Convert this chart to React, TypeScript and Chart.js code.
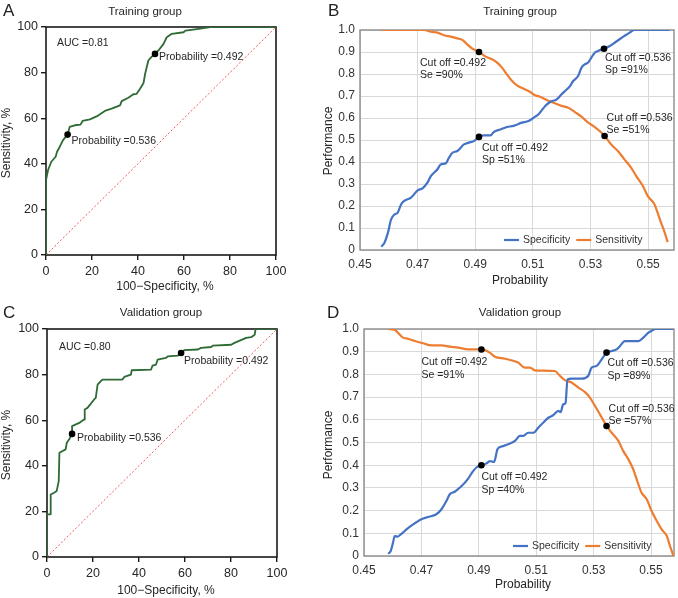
import React, { useEffect, useRef } from "react";
import { Chart, registerables } from "chart.js";
Chart.register(...registerables);

const FONT = '"Liberation Sans", Arial, Helvetica, sans-serif';

// ---------- Panel A: ROC, training group ----------
const rocA_fpr = [0, 0, 0.9, 2.3, 4.2, 4.8, 6.0, 7.4, 9.4, 10.3, 12.5, 15.0, 15.9, 19.1, 22.0, 25.6, 28.5, 32.2, 32.9, 35.8, 38.0, 39.4, 40.9, 42.4, 43.1, 44.5, 46.0, 47.4, 48.9, 51.1, 52.5, 54.7, 59.8, 60.6, 65.6, 71.5, 100];
const rocA_tpr = [0, 32.9, 37.3, 40.9, 43.1, 45.3, 47.5, 50.4, 52.8, 56.2, 56.9, 57.2, 58.8, 59.5, 60.8, 63.2, 64.2, 65.6, 67.5, 69.0, 70.5, 70.7, 72.9, 75.4, 79.5, 85.3, 87.0, 88.2, 89.7, 92.6, 95.5, 97.0, 97.7, 98.4, 99.1, 100, 100];
const rocA_cutFpr = [47.4, 9.4];
const rocA_cutTpr = [88.2, 52.8];
const rocA_cutText = ["Probability =0.492", "Probability =0.536"];
const rocA_auc = "AUC =0.81";

// ---------- Panel C: ROC, validation group ----------
const rocC_fpr = [0, 0, 1.6, 1.6, 3.1, 4.2, 5.1, 5.4, 8.1, 8.6, 9.6, 10.9, 10.9, 14.0, 16.1, 16.4, 17.6, 20.5, 21.2, 22.0, 23.4, 24.1, 32.8, 33.6, 36.5, 36.8, 45.2, 45.9, 47.4, 48.1, 51.7, 52.5, 56.8, 58.3, 59.0, 59.7, 65.6, 67.0, 71.4, 72.1, 80.1, 81.5, 86.6, 88.8, 90.3, 90.7, 100];
const rocC_tpr = [0, 18.7, 18.7, 27.4, 28.2, 28.9, 33.3, 45.7, 47.2, 50.1, 51.5, 54.0, 57.4, 58.8, 60.3, 64.7, 65.4, 69.1, 69.8, 75.6, 77.1, 77.8, 77.8, 79.0, 80.0, 81.9, 82.2, 83.9, 84.4, 86.6, 87.3, 88.0, 88.3, 89.5, 90.2, 90.7, 91.0, 91.7, 92.1, 92.7, 93.1, 93.9, 96.1, 96.4, 97.5, 100, 100];
const rocC_cutFpr = [58.3, 10.9];
const rocC_cutTpr = [89.5, 54.0];
const rocC_cutText = ["Probability =0.492", "Probability =0.536"];
const rocC_auc = "AUC =0.80";

const diagX = [0, 100];
const diagY = [0, 100];
const rocTicks = [0, 20, 40, 60, 80, 100];

// ---------- Panel B: performance, training group ----------
const specB_prob = [0.4574, 0.4585, 0.4597, 0.4608, 0.4620, 0.4631, 0.4643, 0.4654, 0.4677, 0.4700, 0.4717, 0.4734, 0.4746, 0.4769, 0.4780, 0.4798, 0.4809, 0.4821, 0.4838, 0.4861, 0.4878, 0.4895, 0.4913, 0.4930, 0.4953, 0.4964, 0.4987, 0.5010, 0.5033, 0.5062, 0.5085, 0.5108, 0.5120, 0.5143, 0.5160, 0.5183, 0.5200, 0.5212, 0.5229, 0.5240, 0.5257, 0.5269, 0.5280, 0.5292, 0.5303, 0.5315, 0.5326, 0.5347, 0.5367, 0.5384, 0.5401, 0.5418, 0.5436, 0.5453, 0.5574];
const specB = [0.015, 0.033, 0.079, 0.139, 0.162, 0.170, 0.208, 0.223, 0.238, 0.271, 0.280, 0.306, 0.336, 0.367, 0.389, 0.394, 0.420, 0.442, 0.450, 0.480, 0.488, 0.495, 0.514, 0.521, 0.521, 0.536, 0.548, 0.559, 0.564, 0.579, 0.586, 0.606, 0.617, 0.655, 0.673, 0.685, 0.708, 0.723, 0.745, 0.768, 0.791, 0.829, 0.844, 0.852, 0.874, 0.897, 0.905, 0.915, 0.927, 0.942, 0.958, 0.973, 0.988, 1.0, 1.0];
const sensB_prob = [0.4574, 0.4723, 0.4746, 0.4769, 0.4792, 0.4815, 0.4838, 0.4855, 0.4872, 0.4890, 0.4913, 0.4936, 0.4959, 0.4976, 0.4993, 0.5010, 0.5028, 0.5045, 0.5068, 0.5091, 0.5108, 0.5125, 0.5148, 0.5177, 0.5200, 0.5223, 0.5246, 0.5269, 0.5292, 0.5315, 0.5332, 0.5349, 0.5372, 0.5395, 0.5418, 0.5441, 0.5459, 0.5482, 0.5499, 0.5522, 0.5533, 0.5545, 0.5556, 0.5568];
const sensB = [1.0, 1.0, 0.992, 0.988, 0.976, 0.970, 0.962, 0.955, 0.935, 0.915, 0.900, 0.879, 0.867, 0.852, 0.829, 0.798, 0.768, 0.748, 0.733, 0.718, 0.703, 0.697, 0.682, 0.667, 0.655, 0.647, 0.627, 0.606, 0.579, 0.559, 0.541, 0.518, 0.480, 0.450, 0.412, 0.374, 0.336, 0.291, 0.245, 0.208, 0.170, 0.124, 0.086, 0.036];
const cutB_prob = [0.4913, 0.4913, 0.5347, 0.5349];
const cutB_val = [0.900, 0.514, 0.915, 0.518];
const cutB_text = [["Cut off =0.492", "Se =90%"], ["Cut off =0.492", "Sp =51%"], ["Cut off =0.536", "Sp =91%"], ["Cut off =0.536", "Se =51%"]];

// ---------- Panel D: performance, validation group ----------
const specD_prob = [0.4584, 0.4593, 0.4601, 0.4607, 0.4616, 0.4628, 0.4648, 0.4671, 0.4700, 0.4723, 0.4752, 0.4770, 0.4787, 0.4799, 0.4816, 0.4840, 0.4863, 0.4880, 0.4898, 0.4909, 0.4927, 0.4938, 0.4953, 0.4965, 0.4979, 0.5002, 0.5026, 0.5043, 0.5055, 0.5072, 0.5090, 0.5107, 0.5124, 0.5142, 0.5159, 0.5177, 0.5185, 0.5194, 0.5202, 0.5209, 0.5223, 0.5258, 0.5281, 0.5293, 0.5310, 0.5328, 0.5345, 0.5363, 0.5380, 0.5392, 0.5409, 0.5456, 0.5473, 0.5491, 0.5508, 0.5514, 0.5578];
const specD = [0.010, 0.022, 0.059, 0.088, 0.085, 0.095, 0.117, 0.139, 0.162, 0.172, 0.184, 0.206, 0.242, 0.272, 0.283, 0.308, 0.341, 0.374, 0.396, 0.400, 0.408, 0.418, 0.414, 0.470, 0.482, 0.492, 0.507, 0.529, 0.529, 0.543, 0.543, 0.565, 0.587, 0.609, 0.620, 0.639, 0.634, 0.668, 0.673, 0.778, 0.781, 0.781, 0.793, 0.830, 0.837, 0.866, 0.896, 0.903, 0.910, 0.925, 0.947, 0.947, 0.962, 0.984, 0.996, 1.0, 1.0];
const sensD_prob = [0.4584, 0.4607, 0.4636, 0.4653, 0.4677, 0.4706, 0.4735, 0.4770, 0.4799, 0.4828, 0.4863, 0.4909, 0.4938, 0.4956, 0.4991, 0.5037, 0.5060, 0.5078, 0.5095, 0.5165, 0.5183, 0.5200, 0.5223, 0.5247, 0.5270, 0.5287, 0.5305, 0.5322, 0.5345, 0.5363, 0.5386, 0.5403, 0.5421, 0.5438, 0.5450, 0.5467, 0.5485, 0.5502, 0.5520, 0.5537, 0.5555, 0.5566, 0.5578];
const sensD = [1.0, 0.996, 0.962, 0.957, 0.947, 0.937, 0.928, 0.928, 0.922, 0.918, 0.910, 0.910, 0.896, 0.878, 0.869, 0.852, 0.830, 0.830, 0.818, 0.815, 0.793, 0.775, 0.764, 0.742, 0.722, 0.698, 0.661, 0.624, 0.573, 0.543, 0.507, 0.463, 0.426, 0.382, 0.338, 0.279, 0.250, 0.198, 0.154, 0.117, 0.088, 0.044, 0.0];
const cutD_prob = [0.4909, 0.4909, 0.5345, 0.5345];
const cutD_val = [0.910, 0.400, 0.896, 0.573];
const cutD_text = [["Cut off =0.492", "Se =91%"], ["Cut off =0.492", "Sp =40%"], ["Cut off =0.536", "Sp =89%"], ["Cut off =0.536", "Se =57%"]];

const perfXTicks = [0.45, 0.47, 0.49, 0.51, 0.53, 0.55];
const perfYTicks = [0, 0.1, 0.2, 0.3, 0.4, 0.5, 0.6, 0.7, 0.8, 0.9, 1.0];
const seriesNames = ["Specificity", "Sensitivity"];

const zip = (xs: number[], ys: number[]) => xs.map((x, i) => ({ x, y: ys[i] }));

const BLUE = "#4472c4";
const ORANGE = "#ed7d31";
const GREEN = "#2e6b34";
const TXT = "#262626";

type Note = { lines: string[]; dx: number; dy: number };
type Panel = {
  kind: "roc" | "perf";
  box: { left: number; top: number; w: number; h: number };
  area: { l: number; t: number; r: number; b: number };
  letter: string; letterX: number; letterY: number;
  title: string; titleX: number; titleY: number;
  xTitle: string; xTitleX: number; xTitleY: number;
  yTitle: string; yTitleX: number; yTitleY: number;
  notes: Note[];
  datasets: any[];
  auc?: string; aucDx?: number; aucDy?: number;
  legendDx?: number; legendDy?: number;
  xMax?: number;
};

const rocDatasets = (fpr: number[], tpr: number[], cf: number[], ct: number[]) => [
  { data: zip(cf, ct), showLine: false, pointRadius: 3.3, pointBackgroundColor: "#000", pointBorderColor: "#000", pointBorderWidth: 0 },
  { data: zip(fpr, tpr), showLine: true, borderColor: GREEN, borderWidth: 1.8, pointRadius: 0, tension: 0, borderJoinStyle: "round" },
  { data: zip(diagX, diagY), showLine: true, borderColor: "#f25555", borderWidth: 1, borderDash: [2, 2], pointRadius: 0 },
];

const perfDatasets = (sp: number[], s: number[], sep: number[], se: number[], cp: number[], cv: number[]) => [
  { data: zip(cp, cv), showLine: false, pointRadius: 3.3, pointBackgroundColor: "#000", pointBorderColor: "#000", pointBorderWidth: 0 },
  { label: seriesNames[0], data: zip(sp, s), showLine: true, borderColor: BLUE, borderWidth: 2.2, pointRadius: 0, cubicInterpolationMode: "monotone" },
  { label: seriesNames[1], data: zip(sep, se), showLine: true, borderColor: ORANGE, borderWidth: 2.2, pointRadius: 0, cubicInterpolationMode: "monotone" },
];

const panels: Panel[] = [
  {
    kind: "roc",
    box: { left: 0, top: 0, w: 300, h: 299 },
    area: { l: 46, t: 27, r: 276, b: 255 },
    letter: "A", letterX: 3, letterY: 11,
    title: "Training group", titleX: 145, titleY: 12,
    xTitle: "100\u2212Specificity, %", xTitleX: 165, xTitleY: 287,
    yTitle: "Sensitivity, %", yTitleX: 7, yTitleY: 143,
    notes: [
      { lines: [rocA_cutText[0]], dx: 4, dy: 3 },
      { lines: [rocA_cutText[1]], dx: 4, dy: 6 },
    ],
    datasets: rocDatasets(rocA_fpr, rocA_tpr, rocA_cutFpr, rocA_cutTpr),
    auc: rocA_auc, aucDx: 11, aucDy: 16,
  },
  {
    kind: "perf",
    box: { left: 318, top: 0, w: 360, h: 299 },
    area: { l: 42, t: 30, r: 357, b: 250 },
    letter: "B", letterX: 10, letterY: 11,
    title: "Training group", titleX: 202, titleY: 12,
    xTitle: "Probability", xTitleX: 202, xTitleY: 281,
    yTitle: "Performance", yTitleX: 11, yTitleY: 141,
    notes: [
      { lines: cutB_text[0], dx: -59, dy: 11 },
      { lines: cutB_text[1], dx: 3, dy: 11 },
      { lines: cutB_text[2], dx: 1, dy: 9 },
      { lines: cutB_text[3], dx: 2, dy: -18 },
    ],
    datasets: perfDatasets(specB_prob, specB, sensB_prob, sensB, cutB_prob, cutB_val),
    legendDx: 144, legendDy: -10, xMax: 0.559,
  },
  {
    kind: "roc",
    box: { left: 0, top: 299, w: 300, h: 299 },
    area: { l: 47, t: 30, r: 277, b: 258 },
    letter: "C", letterX: 3, letterY: 14,
    title: "Validation group", titleX: 161, titleY: 14,
    xTitle: "100\u2212Specificity, %", xTitleX: 166, xTitleY: 292,
    yTitle: "Sensitivity, %", yTitleX: 7, yTitleY: 146,
    notes: [
      { lines: [rocC_cutText[0]], dx: 3, dy: 8 },
      { lines: [rocC_cutText[1]], dx: 5, dy: 4 },
    ],
    datasets: rocDatasets(rocC_fpr, rocC_tpr, rocC_cutFpr, rocC_cutTpr),
    auc: rocC_auc, aucDx: 12, aucDy: 18,
  },
  {
    kind: "perf",
    box: { left: 318, top: 299, w: 360, h: 299 },
    area: { l: 46, t: 30, r: 357, b: 257 },
    letter: "D", letterX: 9, letterY: 14,
    title: "Validation group", titleX: 202, titleY: 14,
    xTitle: "Probability", xTitleX: 205, xTitleY: 286,
    yTitle: "Performance", yTitleX: 11, yTitleY: 146,
    notes: [
      { lines: cutD_text[0], dx: -60, dy: 13 },
      { lines: cutD_text[1], dx: 0, dy: 12 },
      { lines: cutD_text[2], dx: 1, dy: 11 },
      { lines: cutD_text[3], dx: 2, dy: -17 },
    ],
    datasets: perfDatasets(specD_prob, specD, sensD_prob, sensD, cutD_prob, cutD_val),
    legendDx: 149, legendDy: -10, xMax: 0.558,
  },
];

function decorPlugin(p: Panel) {
  return {
    id: "decor" + p.letter,
    beforeDatasetsDraw(chart: any) {
      const { ctx, chartArea: a } = chart;
      ctx.save();
      ctx.strokeStyle = p.kind === "roc" ? "#1a1a1a" : "#8c8c8c";
      ctx.lineWidth = p.kind === "roc" ? 1.6 : 1.4;
      ctx.strokeRect(a.left, a.top, a.right - a.left, a.bottom - a.top);
      ctx.restore();
    },
    afterDraw(chart: any) {
      const { ctx, chartArea: a } = chart;
      ctx.save();
      ctx.fillStyle = "#222";
      ctx.textBaseline = "middle";
      ctx.textAlign = "left";
      ctx.font = `17px ${FONT}`;
      ctx.fillText(p.letter, p.letterX, p.letterY);
      ctx.fillStyle = TXT;
      ctx.textAlign = "center";
      ctx.font = `11.5px ${FONT}`;
      ctx.fillText(p.title, p.titleX, p.titleY);
      ctx.font = `12px ${FONT}`;
      ctx.fillText(p.xTitle, p.xTitleX, p.xTitleY);
      ctx.save();
      ctx.translate(p.yTitleX, p.yTitleY);
      ctx.rotate(-Math.PI / 2);
      ctx.fillText(p.yTitle, 0, 0);
      ctx.restore();

      ctx.textAlign = "left";
      ctx.font = `10.5px ${FONT}`;
      const meta = chart.getDatasetMeta(0);
      p.notes.forEach((n, i) => {
        const el = meta.data[i];
        if (!el) return;
        n.lines.forEach((line, k) => ctx.fillText(line, el.x + n.dx, el.y + n.dy + k * 12.5));
      });
      if (p.auc) {
        ctx.fillText(p.auc, a.left + (p.aucDx || 0), a.top + (p.aucDy || 0));
      }
      if (p.kind === "perf") {
        let x = a.left + (p.legendDx || 0);
        const y = a.bottom + (p.legendDy || 0);
        [1, 2].forEach((di) => {
          const ds = chart.data.datasets[di];
          ctx.strokeStyle = ds.borderColor;
          ctx.lineWidth = 2.2;
          ctx.beginPath();
          ctx.moveTo(x, y);
          ctx.lineTo(x + 15, y);
          ctx.stroke();
          x += 19;
          ctx.fillStyle = "#333";
          ctx.fillText(ds.label, x, y);
          x += ctx.measureText(ds.label).width + 6;
        });
      }
      ctx.restore();
    },
  };
}

function makeConfig(p: Panel): any {
  const { w, h } = p.box;
  const { l, t, r, b } = p.area;
  const common = {
    animation: false,
    responsive: false,
    maintainAspectRatio: false,
    layout: { padding: { top: t, right: w - r, left: 0, bottom: 0 } },
    plugins: { legend: { display: false }, tooltip: { enabled: false }, title: { display: false } },
  };
  if (p.kind === "roc") {
    return {
      type: "scatter",
      data: { datasets: p.datasets },
      options: {
        ...common,
        scales: {
          x: {
            type: "linear", min: 0, max: 100,
            afterBuildTicks: (s: any) => { s.ticks = rocTicks.map((v) => ({ value: v })); },
            ticks: { color: TXT, font: { family: FONT, size: 12.5 }, padding: 4, maxRotation: 0, autoSkip: false },
            grid: { drawOnChartArea: false, drawTicks: true, tickLength: 5, color: "#1a1a1a", lineWidth: 1.4 },
            border: { display: false },
            afterFit: (s: any) => { s.height = h - b; },
          },
          y: {
            type: "linear", min: 0, max: 100,
            afterBuildTicks: (s: any) => { s.ticks = rocTicks.map((v) => ({ value: v })); },
            ticks: { color: TXT, font: { family: FONT, size: 12.5 }, padding: 3, autoSkip: false },
            grid: { drawOnChartArea: false, drawTicks: true, tickLength: 5, color: "#1a1a1a", lineWidth: 1.4 },
            border: { display: false },
            afterFit: (s: any) => { s.width = l; },
          },
        },
      },
      plugins: [decorPlugin(p)],
    };
  }
  return {
    type: "scatter",
    data: { datasets: p.datasets },
    options: {
      ...common,
      scales: {
        x: {
          type: "linear", min: perfXTicks[0], max: p.xMax,
          afterBuildTicks: (s: any) => { s.ticks = perfXTicks.map((v) => ({ value: v })); },
          ticks: { color: "#333", font: { family: FONT, size: 12 }, padding: 7, maxRotation: 0, autoSkip: false, callback: (v: any) => Number(v).toFixed(2) },
          grid: { drawTicks: false, color: "#d9d9d9", lineWidth: 1 },
          border: { display: false },
          afterFit: (s: any) => { s.height = h - b; },
        },
        y: {
          type: "linear", min: 0, max: 1,
          afterBuildTicks: (s: any) => { s.ticks = perfYTicks.map((v) => ({ value: v })); },
          ticks: { color: "#333", font: { family: FONT, size: 12 }, padding: 5, autoSkip: false, callback: (v: any) => (Math.abs(v) < 1e-9 ? "0" : Number(v).toFixed(1)) },
          grid: { drawTicks: false, color: "#d9d9d9", lineWidth: 1 },
          border: { display: false },
          afterFit: (s: any) => { s.width = l; },
        },
      },
    },
    plugins: [decorPlugin(p)],
  };
}

function PanelChart({ p }: { p: Panel }) {
  const ref = useRef<HTMLCanvasElement | null>(null);
  useEffect(() => {
    if (!ref.current) return;
    const chart = new Chart(ref.current, makeConfig(p));
    return () => chart.destroy();
  }, [p]);
  return (
    <canvas
      ref={ref}
      width={p.box.w}
      height={p.box.h}
      style={{ position: "absolute", left: p.box.left, top: p.box.top, width: p.box.w, height: p.box.h }}
    />
  );
}

export default function App() {
  return (
    <div style={{ position: "fixed", left: 0, top: 0, width: 678, height: 598, background: "#fff", overflow: "hidden" }}>
      {panels.map((p) => (
        <PanelChart key={p.letter} p={p} />
      ))}
    </div>
  );
}
